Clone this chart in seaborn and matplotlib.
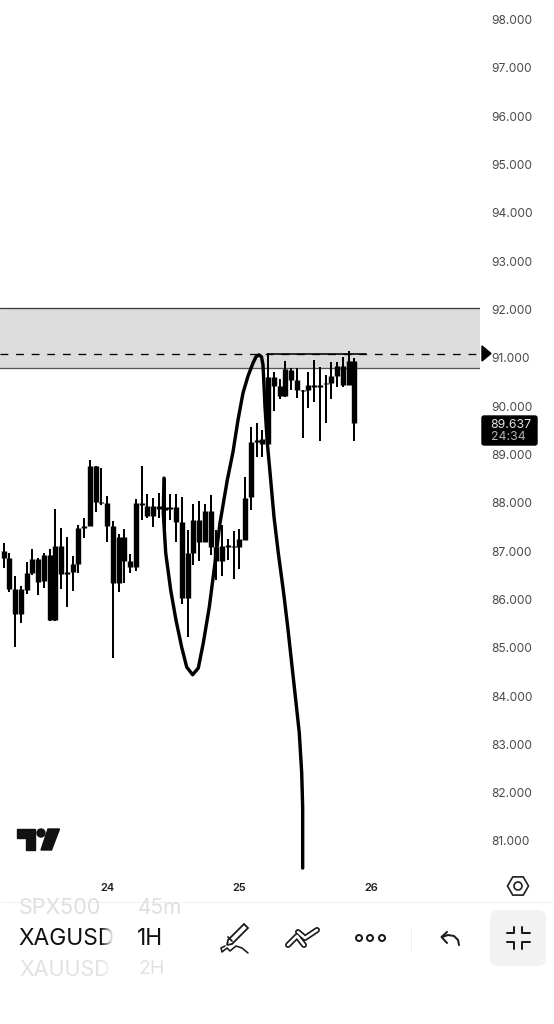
import numpy as np
import pandas as pd
import matplotlib
matplotlib.use("Agg")
import matplotlib.pyplot as plt
from matplotlib.patches import Polygon, Circle, FancyBboxPatch, RegularPolygon
import seaborn as sns

# hourly candles, silver (23 bars per session)
first_bar = -18
highs = [87.16, 86.95, 86.48, 86.27, 86.78, 87.05, 86.85, 86.97, 87.05, 87.88, 87.47, 87.30, 86.90, 87.54, 87.68,
         88.88, 88.75, 88.71, 88.14, 87.62, 87.35, 87.45, 86.94, 88.07, 88.76, 88.19, 88.09, 88.21, 88.52, 88.19,
         88.18, 88.12, 87.43, 87.97, 88.04, 87.97, 88.17, 87.43, 87.54, 87.24, 87.41, 87.45, 88.53, 89.57, 89.65,
         89.51, 91.10, 90.71, 90.56, 90.93, 90.79, 90.79, 90.33, 90.71, 90.95, 90.81, 90.64, 90.91, 90.91, 91.02,
         91.14, 91.00]
body_tops = [87.01, 86.85, 86.21, 86.21, 86.55, 86.83, 86.83, 86.92, 86.92, 87.10, 87.10, 86.57, 86.74, 87.48, 87.52,
             88.75, 88.75, 88.02, 87.99, 87.52, 87.30, 87.30, 86.79, 87.99, 87.99, 87.94, 87.94, 87.94, 87.92, 87.92,
             87.92, 87.61, 86.95, 87.64, 87.64, 87.83, 87.83, 87.09, 87.11, 87.13, 87.10, 87.24, 88.10, 89.26, 89.30,
             89.32, 90.60, 90.60, 90.42, 90.77, 90.75, 90.54, 90.33, 90.44, 90.44, 90.44, 90.48, 90.62, 90.83, 90.83,
             90.93, 90.93]
body_bottoms = [86.85, 86.21, 85.69, 85.69, 86.19, 86.54, 86.37, 86.38, 85.57, 85.57, 86.52, 86.52, 86.57, 86.74, 87.47,
                87.52, 88.01, 87.99, 87.52, 86.34, 86.34, 86.79, 86.67, 86.67, 87.95, 87.72, 87.72, 87.88, 87.86, 87.88,
                87.61, 86.02, 86.02, 86.95, 87.18, 87.18, 87.09, 86.80, 86.80, 87.09, 87.08, 87.08, 87.23, 88.12, 89.26,
                89.22, 89.22, 90.42, 90.21, 90.21, 90.54, 90.33, 90.31, 90.33, 90.40, 90.40, 90.46, 90.48, 90.62, 90.44,
                90.44, 89.64]
lows = [86.64, 86.16, 85.02, 85.52, 86.12, 86.50, 86.10, 86.23, 85.56, 85.55, 86.21, 85.85, 86.18, 86.55, 87.28,
        87.52, 87.81, 87.95, 87.19, 84.78, 86.16, 86.34, 86.54, 86.59, 87.64, 87.69, 87.49, 87.68, 87.43, 87.65,
        87.19, 85.90, 85.23, 86.72, 86.80, 87.18, 86.92, 86.41, 86.48, 86.81, 86.43, 86.62, 87.23, 87.85, 88.95,
        88.95, 89.22, 89.90, 90.15, 90.19, 90.33, 90.17, 89.33, 89.96, 90.09, 89.28, 89.65, 90.15, 90.40, 90.40,
        90.44, 89.28]

# hand drawn stroke
stroke_bars = [9.91, 9.79, 10.21, 11.08, 12.0, 12.99, 13.86, 14.90, 15.88, 16.75, 17.79, 18.78, 19.65, 20.92, 21.91,
               22.78, 23.65, 24.52, 25.39, 25.91, 26.43, 26.87, 27.13, 27.30, 27.48, 27.88, 28.47, 29.04, 29.79,
               30.66, 31.43, 32.12, 32.82, 33.44, 33.86, 34.03, 34.03]
stroke_prices = [88.51, 87.79, 86.96, 86.19, 85.57, 85.01, 84.60, 84.44, 84.58, 85.10, 85.84, 86.75, 87.58, 88.47,
                 89.05, 89.71, 90.27, 90.62, 90.89, 91.02, 91.06, 91.02, 90.85, 90.44, 89.98, 89.24, 88.47, 87.71,
                 86.96, 86.19, 85.43, 84.68, 83.92, 83.24, 82.41, 81.70, 80.44]

zone_top = 92.03
zone_bottom = 90.79
level = 91.08
level_box_bars = [27.95, 45.1]
price_ticks = list(range(81, 99))
day_ticks = [0, 23, 46]
day_labels = ["24", "25", "26"]

bars = np.arange(first_bar, first_bar + len(highs))
wicks = pd.DataFrame({"bar": np.r_[bars, bars], "price": highs + lows})
bodies = pd.DataFrame({"bar": np.r_[bars, bars], "price": body_tops + body_bottoms})

W, H = 554, 1024
px = 0.72  # points per pixel at dpi 100

sns.set_theme(style="white")
plt.rcParams["font.family"] = ["Inter", "DejaVu Sans"]

fig = plt.figure(figsize=(W / 100, H / 100), dpi=100, facecolor="white")
ax = fig.add_axes([0, 1 - 870 / H, 480 / W, 870 / H])

ax.axhspan(zone_bottom, zone_top, color="#dcdcdc", lw=0, zorder=0)
ax.axhline(zone_top, color="#3c3c3c", lw=1.3 * px, zorder=1)
ax.axhline(zone_bottom, color="#555555", lw=1.3 * px, zorder=1)
ax.axhline(level, color="black", lw=1.3 * px, dashes=(6, 6), zorder=1)
ax.plot(level_box_bars, [level, level], color="black", lw=1.6 * px, zorder=2)

sns.lineplot(data=wicks, x="bar", y="price", units="bar", estimator=None, color="black",
             lw=2 * px, solid_capstyle="butt", legend=False, ax=ax, zorder=3)
sns.lineplot(data=bodies, x="bar", y="price", units="bar", estimator=None, color="black",
             lw=5.4 * px, solid_capstyle="butt", legend=False, ax=ax, zorder=4)
sns.lineplot(x=stroke_bars, y=stroke_prices, sort=False, estimator=None, color="black",
             lw=3.4 * px, solid_joinstyle="round", solid_capstyle="round", ax=ax, zorder=5)

ax.set_xlim(-107 / 5.75, (480 - 107) / 5.75)
ax.set_ylim(81 - 29 * 0.020695, 98 + 19.5 / 48.32)
ax.set_xlabel("")
ax.set_ylabel("")
ax.yaxis.tick_right()
ax.set_yticks(price_ticks, [f"{p}.000" for p in price_ticks])
ax.set_xticks(day_ticks, day_labels)
ax.tick_params(axis="y", length=0, pad=11 * px, labelsize=8.6, labelcolor="#4a4a4a")
ax.tick_params(axis="x", length=0, pad=13 * px, labelsize=8, labelcolor="#222222")
for lab in ax.get_xticklabels():
    lab.set_fontweight("semibold")
sns.despine(ax=ax, left=True, right=True, top=True, bottom=True)

# everything around the chart, in screen pixels
ui = fig.add_axes([0, 0, 1, 1], facecolor="none")
ui.set_xlim(0, W)
ui.set_ylim(H, 0)
ui.axis("off")


def stroke(xs, ys, lw=2, color="#1a1a1a"):
    ui.plot(xs, ys, color=color, lw=lw * px, solid_capstyle="round", solid_joinstyle="round")


# price marker
ui.add_patch(Polygon([(482, 346), (491, 353.5), (482, 361)], color="black"))
ui.add_patch(FancyBboxPatch((482, 416), 55, 29, boxstyle="round,pad=0,rounding_size=2", color="black"))
ui.text(511, 424.5, "89.637", color="#e4e4e4", fontsize=8.8, ha="center", va="center")
ui.text(508, 437, "24:34", color="#b4b4b4", fontsize=8.8, ha="center", va="center")

# tradingview logo
ui.add_patch(Polygon([(17, 829), (35, 829), (35, 850), (26, 850), (26, 838), (17, 838)], color="#111111"))
ui.add_patch(Circle((41, 833), 4, color="#111111"))
ui.add_patch(Polygon([(48, 829), (59.5, 829), (51.5, 850), (41, 850)], color="#111111"))

# settings hexagon
ui.add_patch(RegularPolygon((518, 886), 6, radius=10.5, orientation=np.pi / 6, fill=False, ec="#222222", lw=1.7 * px))
ui.add_patch(Circle((518, 886), 4, fill=False, ec="#222222", lw=1.7 * px))

# toolbar
ui.plot([0, W], [902, 902], color="#f1f1f1", lw=1 * px)
ui.plot([410.5, 410.5], [928, 951], color="#efefef", lw=1 * px)
ui.text(19, 908.5, "SPX500", color="#dfdfdf", fontsize=15.5, ha="left", va="center")
ui.text(138, 908.5, "45m", color="#dfdfdf", fontsize=15, ha="left", va="center")
ui.text(18, 939, "XAGUSD", color="#111111", fontsize=16.4, ha="left", va="center")
ui.text(137, 939, "1H", color="#111111", fontsize=16.4, ha="left", va="center")
ui.text(19, 969.5, "XAUUSD", color="#e2e2e2", fontsize=15.5, ha="left", va="center")
ui.text(139, 969.5, "2H", color="#e2e2e2", fontsize=14, ha="left", va="center")

# symbol names fade out on the right
fade = np.zeros((1, 32, 4))
fade[..., :3] = 1
fade[..., 3] = np.r_[np.linspace(0, 1, 14), np.ones(18)]
ui.imshow(fade, extent=(100, 132, 985, 904), aspect="auto", zorder=5)
ui.set_xlim(0, W)
ui.set_ylim(H, 0)

# pen
ui.add_patch(Polygon([(228, 940), (244, 924), (248, 928), (232, 944), (227, 945)], fill=False, ec="#1a1a1a", lw=1.8 * px))
stroke([228, 232], [937, 941], 1.8)
stroke([248, 242, 236, 230, 227, 222, 221, 225], [953, 948, 946, 951, 948, 952, 948, 946], 1.6)

# trend tool
stroke([288, 297, 304], [945, 936, 945], 6)
stroke([298, 305, 317], [932, 938, 930], 6)
stroke([288, 297, 304], [945, 936, 945], 2.6, "white")
stroke([298, 305, 317], [932, 938, 930], 2.6, "white")

# three dots
for cx in [359, 370, 382]:
    ui.add_patch(Circle((cx, 938), 3, fill=False, ec="#1a1a1a", lw=2 * px))

# undo
stroke([459, 458, 454, 448, 442], [945, 940, 936, 935, 937], 2)
stroke([447, 441.5, 447], [932, 937, 943], 2)

# collapse button
ui.add_patch(FancyBboxPatch((490, 910), 56, 56, boxstyle="round,pad=0,rounding_size=8", color="#f2f2f2", lw=0))
stroke([507, 514, 514], [933, 933, 927], 2)
stroke([522, 522, 530], [927, 933, 933], 2)
stroke([507, 514, 514], [942, 942, 949], 2)
stroke([530, 522, 522], [942, 942, 949], 2)

fig.savefig("out.png", dpi=100)
